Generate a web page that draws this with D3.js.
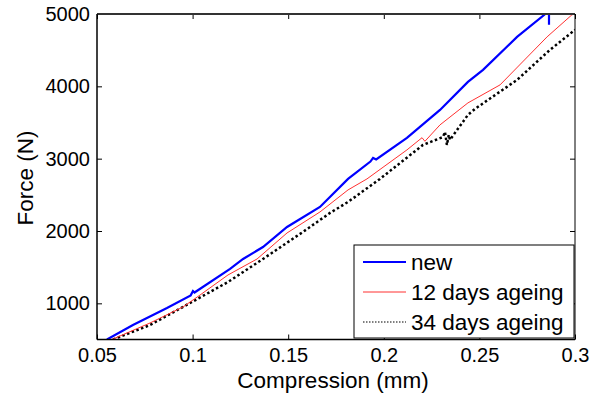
<!DOCTYPE html>
<html>
<head>
<meta charset="utf-8">
<script src="https://cdn.jsdelivr.net/npm/d3@7"></script>
<style>
  html, body { margin: 0; padding: 0; background: #fff; }
  text { font-family: "Liberation Sans", Arial, Helvetica, sans-serif; fill: #000; }
</style>
</head>
<body>
<svg id="chart" width="596" height="396"></svg>
<script>
// ---- data ----
const seriesNames = ["new", "12 days ageing", "34 days ageing"];
const xTicks = [0.05, 0.1, 0.15, 0.2, 0.25, 0.3];
const xTickLabels = ["0.05", "0.1", "0.15", "0.2", "0.25", "0.3"];
const yTicks = [1000, 2000, 3000, 4000, 5000];
const yTickLabels = ["1000", "2000", "3000", "4000", "5000"];
const xLabel = "Compression (mm)";
const yLabel = "Force (N)";

const newX = [0.0552, 0.0688, 0.0866, 0.0990, 0.1002, 0.1010, 0.1196, 0.1264, 0.1368, 0.1494, 0.1666, 0.1813, 0.1930, 0.1944, 0.1960, 0.2121, 0.2294, 0.2440, 0.2519, 0.2697, 0.2845, 0.2864, 0.2864];
const newY = [500, 700, 936, 1110, 1170, 1150, 1475, 1613, 1779, 2056, 2332, 2720, 2960, 3010, 2990, 3287, 3674, 4061, 4227, 4684, 5000, 5000, 4850];

const d12X = [0.0578, 0.0777, 0.0950, 0.1039, 0.1185, 0.1337, 0.1494, 0.1666, 0.1813, 0.1912, 0.2121, 0.2200, 0.2215, 0.2294, 0.2440, 0.2608, 0.2854, 0.2984, 0.3000];
const d12Y = [500, 728, 950, 1115, 1392, 1613, 1973, 2263, 2568, 2720, 3121, 3290, 3240, 3467, 3771, 4020, 4684, 4989, 5000];

const d34X = [0.0584, 0.0777, 0.0950, 0.1185, 0.1368, 0.1577, 0.1719, 0.1813, 0.1980, 0.2205, 0.2310, 0.2320, 0.2330, 0.2340, 0.2346, 0.2440, 0.2477, 0.2697, 0.2869, 0.3000];
const d34Y = [500, 700, 950, 1295, 1613, 1987, 2250, 2402, 2720, 3190, 3300, 3370, 3190, 3330, 3260, 3605, 3688, 4089, 4504, 4781];

// ---- layout ----
const W = 596, H = 396;
const L = 97, R = 575, T = 14, B = 339.5;
const svg = d3.select("#chart");

const x = d3.scaleLinear().domain([0.05, 0.3]).range([L, R]);
const y = d3.scaleLinear().domain([500, 5000]).range([B, T]);

svg.append("defs").append("clipPath").attr("id", "clip")
  .append("rect").attr("x", L).attr("y", T).attr("width", R - L).attr("height", B - T);

// axes with inward ticks
const fmtX = d => xTickLabels[xTicks.indexOf(d)];
const fmtY = d => yTickLabels[yTicks.indexOf(d)];

const gB = svg.append("g").attr("transform", `translate(0,${B})`)
  .call(d3.axisBottom(x).tickValues(xTicks).tickFormat(fmtX).tickSizeInner(-5).tickSizeOuter(0).tickPadding(8));
const gL = svg.append("g").attr("transform", `translate(${L},0)`)
  .call(d3.axisLeft(y).tickValues(yTicks).tickFormat(fmtY).tickSizeInner(-5).tickSizeOuter(0).tickPadding(7));
const gT = svg.append("g").attr("transform", `translate(0,${T})`)
  .call(d3.axisTop(x).tickValues(xTicks).tickFormat("").tickSizeInner(-5).tickSizeOuter(0));
const gR = svg.append("g").attr("transform", `translate(${R},0)`)
  .call(d3.axisRight(y).tickValues(yTicks).tickFormat("").tickSizeInner(-5).tickSizeOuter(0));

[gB, gL, gT, gR].forEach(g => {
  g.select(".domain").remove();
  g.selectAll(".tick line").attr("stroke", "#000").attr("stroke-width", 1);
  g.selectAll(".tick text").style("font-size", "20px").attr("fill", "#000");
});

// lines
const line = d3.line().x(d => x(d[0])).y(d => y(d[1]));
const plot = svg.append("g").attr("clip-path", "url(#clip)");

plot.append("path").datum(d34X.map((v, i) => [v, d34Y[i]]))
  .attr("fill", "none").attr("stroke", "#000").attr("stroke-width", 2.5)
  .attr("stroke-dasharray", "2.5 2.5").attr("d", line);
plot.append("path").datum(d12X.map((v, i) => [v, d12Y[i]]))
  .attr("fill", "none").attr("stroke", "#ff3030").attr("stroke-width", 1).attr("d", line);
plot.append("path").datum(newX.map((v, i) => [v, newY[i]]))
  .attr("fill", "none").attr("stroke", "#0000ff").attr("stroke-width", 2.2)
  .attr("stroke-linejoin", "miter").attr("d", line);

// frame
svg.append("line").attr("x1", L).attr("x2", R).attr("y1", T).attr("y2", T).attr("stroke", "#333").attr("stroke-width", 2);
svg.append("line").attr("x1", L).attr("x2", R).attr("y1", B).attr("y2", B).attr("stroke", "#000").attr("stroke-width", 1.5);
svg.append("line").attr("x1", L).attr("x2", L).attr("y1", T).attr("y2", B).attr("stroke", "#000").attr("stroke-width", 1.5);
svg.append("line").attr("x1", R).attr("x2", R).attr("y1", T).attr("y2", B).attr("stroke", "#000").attr("stroke-width", 1);

// axis labels
svg.append("text").attr("x", 333).attr("y", 388).attr("text-anchor", "middle")
  .style("font-size", "22.5px").text(xLabel);
svg.append("text").attr("transform", "translate(33,178) rotate(-90)").attr("text-anchor", "middle")
  .style("font-size", "22.5px").text(yLabel);

// legend
const lg = svg.append("g");
lg.append("rect").attr("x", 354).attr("y", 245).attr("width", 220).attr("height", 93)
  .attr("fill", "#fff").attr("stroke", "#000").attr("stroke-width", 1);
const legStyles = [
  { stroke: "#0000ff", width: 2, dash: null },
  { stroke: "#ff3030", width: 1, dash: null },
  { stroke: "#000", width: 1.2, dash: "1.5 1.5" }
];
const rowY = d3.scaleLinear().domain([0, 2]).range([262, 322]);
seriesNames.forEach((name, i) => {
  const s = legStyles[i];
  const ln = lg.append("line").attr("x1", 363).attr("x2", 406).attr("y1", rowY(i)).attr("y2", rowY(i))
    .attr("stroke", s.stroke).attr("stroke-width", s.width);
  if (s.dash) ln.attr("stroke-dasharray", s.dash);
  lg.append("text").attr("x", 411).attr("y", rowY(i)).attr("dy", "0.36em")
    .style("font-size", "22.5px").text(name);
});
</script>
</body>
</html>
